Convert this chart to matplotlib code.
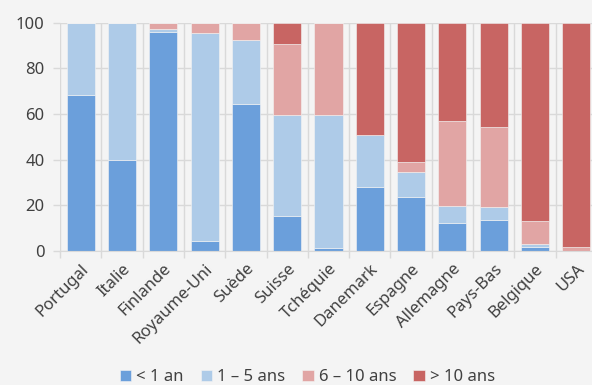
import matplotlib
matplotlib.use("Agg")
import matplotlib.pyplot as plt
import numpy as np

countries = ["Portugal", "Italie", "Finlande", "Royaume-Uni", "Suède", "Suisse",
             "Tchéquie", "Danemark", "Espagne", "Allemagne", "Pays-Bas", "Belgique", "USA"]
series_names = ["< 1 an", "1 – 5 ans", "6 – 10 ans", "> 10 ans"]
lt1 = [68.5, 40.0, 96.0, 4.4, 64.5, 15.3, 1.3, 28.0, 23.7, 12.1, 13.6, 1.8, 0.0]
y1_5 = [31.5, 60.0, 1.3, 91.1, 27.9, 44.3, 58.1, 22.7, 11.0, 7.7, 5.8, 1.3, 0.0]
y6_10 = [0.0, 0.0, 2.7, 4.5, 7.6, 31.1, 40.6, 0.0, 4.4, 37.1, 34.9, 10.0, 1.8]
gt10 = [0.0, 0.0, 0.0, 0.0, 0.0, 9.3, 0.0, 49.3, 60.9, 43.1, 45.7, 86.9, 98.2]
colors = ["#6B9FDB", "#AECBE8", "#E1A5A4", "#C86563"]

plt.rcParams["font.family"] = ["Noto Sans", "DejaVu Sans"]
bg = "#F4F4F4"
grid_c = "#D9D9D9"
text_c = "#404040"

fig = plt.figure(figsize=(5.92, 3.85), dpi=100, facecolor=bg)
ax = fig.add_axes([60 / 592, 134 / 385, 537 / 592, 228.3 / 385])
ax.set_facecolor(bg)

x = np.arange(len(countries))
bottom = np.zeros(len(countries))
for vals, name, col in zip([lt1, y1_5, y6_10, gt10], series_names, colors):
    v = np.array(vals)
    ax.bar(x, v, width=0.68, bottom=bottom, color=col, label=name,
           edgecolor="#F4F4F4", linewidth=0.4, zorder=3)
    bottom += v

ax.set_xlim(-0.5, len(countries) - 0.5)
ax.set_ylim(0, 100)
ax.set_yticks(np.arange(0, 101, 20))
ax.set_xticks(x)
ax.set_xticklabels(countries, rotation=45, ha="right", rotation_mode="anchor")

# category separators and horizontal grid
ax.set_xticks(np.arange(-0.5, len(countries), 1), minor=True)
ax.grid(axis="y", color=grid_c, linewidth=1, zorder=0)
ax.grid(axis="x", which="minor", color=grid_c, linewidth=1, zorder=0)
ax.tick_params(axis="x", which="major", length=0, pad=7, labelsize=12, labelcolor=text_c)
ax.tick_params(axis="x", which="minor", length=5, color=grid_c, width=1)
ax.tick_params(axis="y", length=5, color=grid_c, width=1, pad=6, labelsize=12, labelcolor=text_c)
for s in ["top", "right", "left"]:
    ax.spines[s].set_visible(False)
ax.spines["bottom"].set_color(grid_c)
ax.spines["bottom"].set_zorder(4)

fig.legend(loc="center", bbox_to_anchor=(0.519, 0.02), ncol=4, frameon=False,
           fontsize=12, handlelength=0.7, handleheight=0.7, handletextpad=0.3,
           columnspacing=1.0, labelcolor=text_c, borderpad=0)

fig.savefig("out.png", dpi=100, facecolor=bg)
